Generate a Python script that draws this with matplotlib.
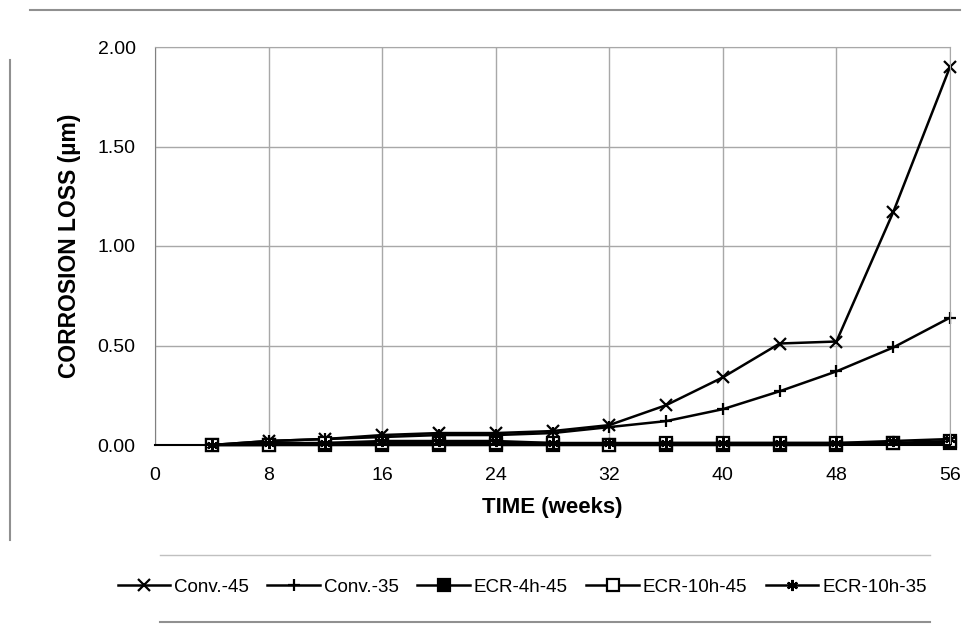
import matplotlib
matplotlib.use("Agg")
import matplotlib.pyplot as plt
from matplotlib.lines import Line2D

plt.rcParams['font.family'] = ['Liberation Sans', 'DejaVu Sans']

weeks = [4, 8, 12, 16, 20, 24, 28, 32, 36, 40, 44, 48, 52, 56]
conv45 = [0.00, 0.02, 0.03, 0.05, 0.06, 0.06, 0.07, 0.10, 0.20, 0.34, 0.51, 0.52, 1.17, 1.90]
conv35 = [0.00, 0.02, 0.03, 0.04, 0.05, 0.05, 0.06, 0.09, 0.12, 0.18, 0.27, 0.37, 0.49, 0.64]
ecr4h45 = [0.00, 0.00, 0.00, 0.00, 0.00, 0.00, 0.00, 0.00, 0.00, 0.00, 0.00, 0.00, 0.01, 0.01]
ecr10h45 = [0.00, 0.00, 0.01, 0.01, 0.01, 0.01, 0.01, 0.00, 0.01, 0.01, 0.01, 0.01, 0.01, 0.02]
ecr10h35 = [0.00, 0.01, 0.01, 0.02, 0.02, 0.02, 0.01, 0.01, 0.01, 0.01, 0.01, 0.01, 0.02, 0.03]

labels = ['Conv.-45', 'Conv.-35', 'ECR-4h-45', 'ECR-10h-45', 'ECR-10h-35']
series = [conv45, conv35, ecr4h45, ecr10h45, ecr10h35]
markers = ['x', '+', 's', 's', (6, 2, 0)]
faces = ['k', 'k', 'k', 'white', 'k']

xticks = [0, 8, 16, 24, 32, 40, 48, 56]
yticks = [0.0, 0.5, 1.0, 1.5, 2.0]

fig = plt.figure(figsize=(9.8, 6.29), dpi=100)
ax = fig.add_axes([155/980, 1-445/629, 795/980, 398/629])

for ys, lab, m, fc in zip(series, labels, markers, faces):
    ax.plot(weeks, ys, color='black', lw=1.8, marker=m, markersize=8,
            markerfacecolor=fc, markeredgecolor='black', markeredgewidth=1.6, label=lab,
            clip_on=False)

ax.set_xlim(0, 56)
ax.set_ylim(0, 2.0)
ax.set_xticks(xticks)
ax.set_yticks(yticks)
ax.set_yticklabels([f"{v:.2f}" for v in yticks])
ax.tick_params(length=0, labelsize=14)
ax.tick_params(axis='y', pad=14)
ax.tick_params(axis='x', pad=16)
ax.grid(True, color='#a8a8a8', lw=1)
ax.set_axisbelow(True)
for s in ['top', 'right']:
    ax.spines[s].set_color('#a8a8a8')
ax.spines['left'].set_color('#808080')
ax.spines['bottom'].set_color('black')
ax.spines['bottom'].set_linewidth(1.5)

ax.set_xlabel('TIME (weeks)', fontsize=16, fontweight='bold', labelpad=9)
ax.set_ylabel('CORROSION LOSS (µm)', fontsize=16.5, fontweight='bold', labelpad=12)

leg = fig.legend(loc='center', bbox_to_anchor=(522/980, 1-587/629), ncol=5, frameon=False,
                 fontsize=13.5, handlelength=2.8, columnspacing=1.0, handletextpad=0.2)

# border lines of the chart area
fig.add_artist(Line2D([30/980, 960/980], [1-10/629, 1-10/629], color='#909090', lw=1.5))
fig.add_artist(Line2D([10/980, 10/980], [1-60/629, 1-540/629], color='#909090', lw=1.5))
fig.add_artist(Line2D([160/980, 930/980], [1-555/629, 1-555/629], color='#c0c0c0', lw=1))
fig.add_artist(Line2D([160/980, 930/980], [1-622/629, 1-622/629], color='#909090', lw=1.5))

fig.savefig('out.png', dpi=100, facecolor='white')
